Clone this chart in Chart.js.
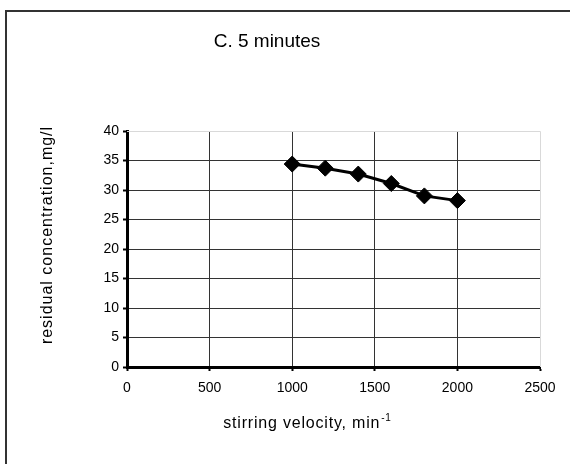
<!DOCTYPE html>
<html>
<head>
<meta charset="utf-8">
<script src="https://cdn.jsdelivr.net/npm/chart.js@4.4.1/dist/chart.umd.min.js"></script>
<style>
  body { margin: 0; background: #fff; }
  canvas { display: block; }
</style>
</head>
<body>
<canvas id="myChart" width="570" height="464"></canvas>
<script>
// stirring velocity (min-1) vs residual concentration (mg/l), 5 minutes
const velocity = [1000, 1200, 1400, 1600, 1800, 2000];
const concentration = [34.4, 33.7, 32.7, 31.1, 29.0, 28.2];

const titleText = "C. 5 minutes";
const yTitle = "residual concentration,mg/l";
const xTitle = "stirring velocity, min";
const xTitleSup = "-1";

const FONT = "'Liberation Sans', Arial, sans-serif";

// frame + titles drawn by hand, like the excel export
const decor = {
  id: "decor",
  beforeDraw(chart) {
    const ctx = chart.ctx;
    ctx.save();
    ctx.fillStyle = "#fff";
    ctx.fillRect(0, 0, chart.width, chart.height);
    ctx.strokeStyle = "#333";
    ctx.lineWidth = 2;
    ctx.beginPath();
    ctx.moveTo(6, chart.height);
    ctx.lineTo(6, 11);
    ctx.lineTo(chart.width, 11);
    ctx.stroke();
    ctx.restore();
  },
  afterDraw(chart) {
    const ctx = chart.ctx;
    const a = chart.chartArea;
    ctx.save();
    ctx.fillStyle = "#000";
    ctx.textBaseline = "alphabetic";

    ctx.font = "19px " + FONT;
    ctx.textAlign = "center";
    ctx.fillText(titleText, 267, 47);

    // y title
    ctx.font = "16px " + FONT;
    ctx.letterSpacing = "1px";
    ctx.save();
    ctx.translate(52, 235);
    ctx.rotate(-Math.PI / 2);
    ctx.textAlign = "center";
    ctx.fillText(yTitle, 0, 0);
    ctx.restore();

    // x title with superscript
    ctx.letterSpacing = "0.8px";
    ctx.font = "16px " + FONT;
    const w1 = ctx.measureText(xTitle).width;
    ctx.font = "10px " + FONT;
    const w2 = ctx.measureText(xTitleSup).width;
    const x0 = 307 - (w1 + w2) / 2;
    ctx.textAlign = "left";
    ctx.font = "16px " + FONT;
    ctx.fillText(xTitle, x0, 428);
    ctx.font = "10px " + FONT;
    ctx.fillText(xTitleSup, x0 + w1 + 1, 421);
    ctx.letterSpacing = "0px";

    // light frame on top / right of plot
    ctx.strokeStyle = "#d9d9d9";
    ctx.lineWidth = 1;
    ctx.beginPath();
    ctx.moveTo(a.left, a.top + 0.5);
    ctx.lineTo(a.right + 0.5, a.top + 0.5);
    ctx.lineTo(a.right + 0.5, a.bottom);
    ctx.stroke();
    ctx.restore();
  }
};

const data = {
  datasets: [
    {
      label: "5 minutes",
      data: velocity.map((v, i) => ({ x: v, y: concentration[i] })),
      borderColor: "#000",
      backgroundColor: "#000",
      borderWidth: 3,
      pointStyle: "rectRot",
      pointRadius: 8,
      pointBorderWidth: 1,
      tension: 0,
    },
  ],
};

const gridColor = (last) => (ctx) =>
  ctx.tick && ctx.tick.value === last ? "rgba(0,0,0,0)" : "#333";

const config = {
  type: "line",
  data: data,
  plugins: [decor],
  options: {
    responsive: false,
    animation: false,
    layout: { padding: { left: 0, right: 30, top: 131, bottom: 0 } },
    plugins: {
      legend: { display: false },
      tooltip: { enabled: false },
      title: { display: false },
    },
    scales: {
      x: {
        type: "linear",
        min: 0,
        max: 2500,
        ticks: {
          stepSize: 500,
          color: "#000",
          font: { family: FONT, size: 14 },
          padding: 9,
          maxRotation: 0,
          callback: (v) => String(v),
        },
        grid: {
          color: gridColor(2500),
          lineWidth: 1,
          tickLength: 4,
          tickColor: "#000",
          tickWidth: 2,
        },
        border: { color: "#000", width: 3 },
        afterFit(scale) { scale.height = 97; },
      },
      y: {
        min: 0,
        max: 40,
        ticks: {
          stepSize: 5,
          color: "#000",
          font: { family: FONT, size: 14 },
          padding: 4,
          callback: (v) => String(v),
        },
        grid: {
          color: gridColor(40),
          lineWidth: 1,
          tickLength: 4,
          tickColor: "#000",
          tickWidth: 2,
        },
        border: { color: "#000", width: 3 },
        afterFit(scale) { scale.width = 127; },
      },
    },
  },
};

var myChart = new Chart(document.getElementById("myChart"), config);
</script>
</body>
</html>
